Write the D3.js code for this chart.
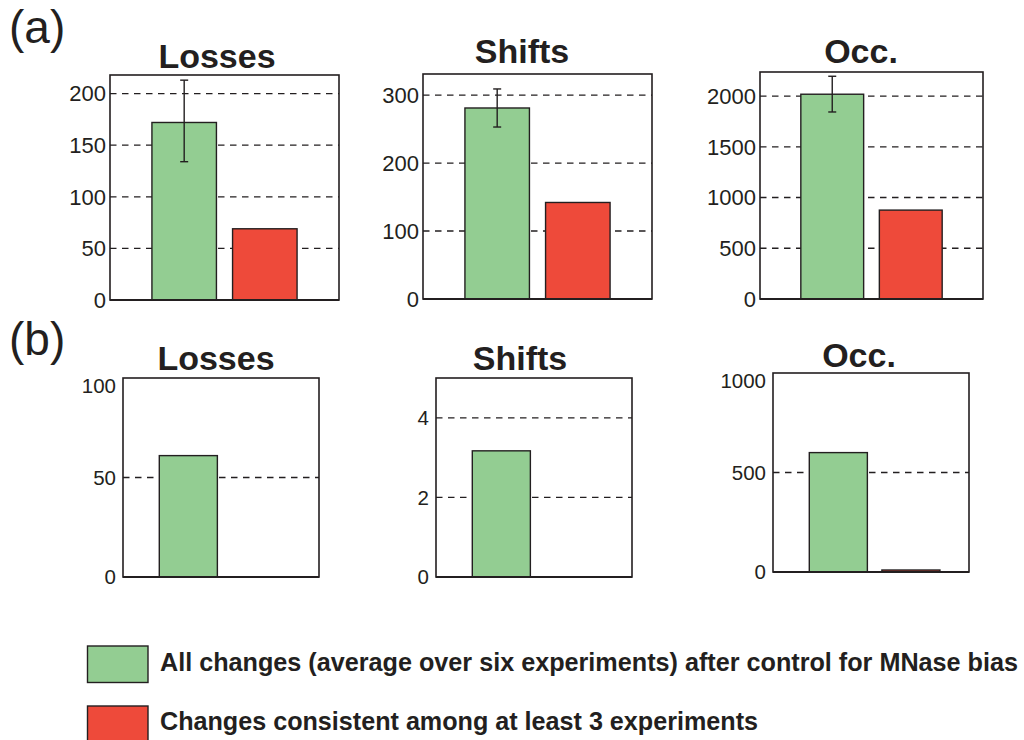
<!DOCTYPE html>
<html>
<head>
<meta charset="utf-8">
<script src="https://cdn.jsdelivr.net/npm/d3@7"></script>
<style>
  html, body { margin: 0; padding: 0; background: #ffffff; }
  svg { display: block; }
  text { font-family: "Liberation Sans", Arial, Helvetica, sans-serif; fill: #231f20; }
</style>
</head>
<body>
<svg id="fig" width="1024" height="740"></svg>
<script>
// ---- data ----
const titles = ["Losses", "Shifts", "Occ."];
const legendLabels = [
  "All changes (average over six experiments) after control for MNase bias",
  "Changes consistent among at least 3 experiments"
];

// Row (a): averages with error bars, plus consistent changes
const allChangesA = [172, 281, 2018];
const errLowA = [134, 253, 1843];
const errHighA = [213, 309, 2195];
const consistentA = [69, 142, 876];
const yLimitA = [218, 331, 2237];
const yTicksA = [[0, 50, 100, 150, 200], [0, 100, 200, 300], [0, 500, 1000, 1500, 2000]];

// Row (b)
const allChangesB = [61, 3.17, 600];
const consistentB = [0, 0, 10];
const yLimitB = [100, 5, 1000];
const yTicksB = [[0, 50, 100], [0, 2, 4], [0, 500, 1000]];

// ---- style ----
const GREEN = "#93cd92";
const RED = "#ee4a3a";
const INK = "#231f20";

const svg = d3.select("#fig");

// Axes boxes for each panel
const boxesA = [
  { x0: 110, x1: 339, y0: 75, y1: 300, tx: 217, ty: 68 },
  { x0: 423, x1: 652, y0: 74, y1: 299, tx: 522, ty: 63 },
  { x0: 760, x1: 983, y0: 72, y1: 299, tx: 861, ty: 63 }
];
const boxesB = [
  { x0: 123, x1: 319, y0: 378, y1: 577, tx: 216, ty: 370 },
  { x0: 436, x1: 632, y0: 378, y1: 577, tx: 520, ty: 370 },
  { x0: 773, x1: 969, y0: 373, y1: 572, tx: 859, ty: 367 }
];

function drawPanel(box, opts) {
  const g = svg.append("g");
  const x = d3.scaleLinear().domain(opts.xDomain).range([box.x0, box.x1]);
  const y = d3.scaleLinear().domain([0, opts.yMax]).range([box.y1, box.y0]);
  const barW = x(0.8) - x(0);

  // dashed grid at interior ticks
  g.selectAll("line.grid")
    .data(opts.ticks.filter(t => t > 0 && t < opts.yMax))
    .join("line")
    .attr("class", "grid")
    .attr("x1", box.x0).attr("x2", box.x1)
    .attr("y1", d => y(d)).attr("y2", d => y(d))
    .attr("stroke", INK).attr("stroke-width", 1.3)
    .attr("stroke-dasharray", "6.5,5.5");

  // bars
  const bars = [
    { pos: 1, v: opts.values[0], fill: GREEN },
    { pos: 2, v: opts.values[1], fill: RED }
  ].filter(d => d.v > 0);
  g.selectAll("rect.bar")
    .data(bars)
    .join("rect")
    .attr("class", "bar")
    .attr("x", d => x(d.pos) - barW / 2)
    .attr("width", barW)
    .attr("y", d => y(d.v))
    .attr("height", d => y(0) - y(d.v))
    .attr("fill", d => d.fill)
    .attr("stroke", INK).attr("stroke-width", 1.4);

  // error bar on the averaged series
  if (opts.err) {
    const cx = x(1), cap = 4;
    const eb = g.append("g").attr("stroke", INK).attr("stroke-width", 1.4);
    eb.append("line").attr("x1", cx).attr("x2", cx)
      .attr("y1", y(opts.err[0])).attr("y2", y(opts.err[1]));
    eb.selectAll("line.cap").data(opts.err).join("line").attr("class", "cap")
      .attr("x1", cx - cap).attr("x2", cx + cap)
      .attr("y1", d => y(d)).attr("y2", d => y(d));
  }

  // frame
  g.append("rect")
    .attr("x", box.x0).attr("y", box.y0)
    .attr("width", box.x1 - box.x0).attr("height", box.y1 - box.y0)
    .attr("fill", "none").attr("stroke", INK).attr("stroke-width", 1.6);
  g.append("line")
    .attr("x1", box.x0).attr("x2", box.x1)
    .attr("y1", box.y1).attr("y2", box.y1)
    .attr("stroke", INK).attr("stroke-width", 2.2);

  // tick labels
  g.selectAll("text.tick")
    .data(opts.ticks)
    .join("text")
    .attr("class", "tick")
    .attr("x", box.x0 - opts.labelGap)
    .attr("y", d => y(d) + (d === opts.yMax ? 8 : 0))
    .attr("dy", "0.36em")
    .attr("text-anchor", "end")
    .attr("font-size", opts.labelSize)
    .text(d => d3.format("d")(d));

  // title
  g.append("text")
    .attr("x", box.tx).attr("y", box.ty)
    .attr("text-anchor", "middle")
    .attr("font-size", 34).attr("font-weight", "bold")
    .text(opts.title);
}

titles.forEach((t, i) => {
  drawPanel(boxesA[i], {
    title: t,
    xDomain: [0.08, 2.92],
    yMax: yLimitA[i],
    ticks: yTicksA[i],
    values: [allChangesA[i], consistentA[i]],
    err: [errLowA[i], errHighA[i]],
    labelGap: 4,
    labelSize: 22
  });
  drawPanel(boxesB[i], {
    title: t,
    xDomain: [0.1, 2.8],
    yMax: yLimitB[i],
    ticks: yTicksB[i],
    values: [allChangesB[i], consistentB[i]],
    err: null,
    labelGap: 7,
    labelSize: 20.5
  });
});

// panel letters
svg.append("text").attr("x", 9).attr("y", 43).attr("font-size", 46).text("(a)");
svg.append("text").attr("x", 9).attr("y", 355).attr("font-size", 46).text("(b)");

// legend
const legend = [
  { label: legendLabels[0], fill: GREEN, y: 646, base: 671, len: 858 },
  { label: legendLabels[1], fill: RED, y: 706, base: 730, len: 598 }
];
const lg = svg.append("g");
lg.selectAll("rect").data(legend).join("rect")
  .attr("x", 87.5).attr("y", d => d.y)
  .attr("width", 60.5).attr("height", 36.5)
  .attr("fill", d => d.fill)
  .attr("stroke", INK).attr("stroke-width", 1.4);
lg.selectAll("text").data(legend).join("text")
  .attr("x", 160).attr("y", d => d.base)
  .attr("font-size", 25).attr("font-weight", "bold")
  .attr("textLength", d => d.len)
  .attr("lengthAdjust", "spacingAndGlyphs")
  .text(d => d.label);
</script>
</body>
</html>
